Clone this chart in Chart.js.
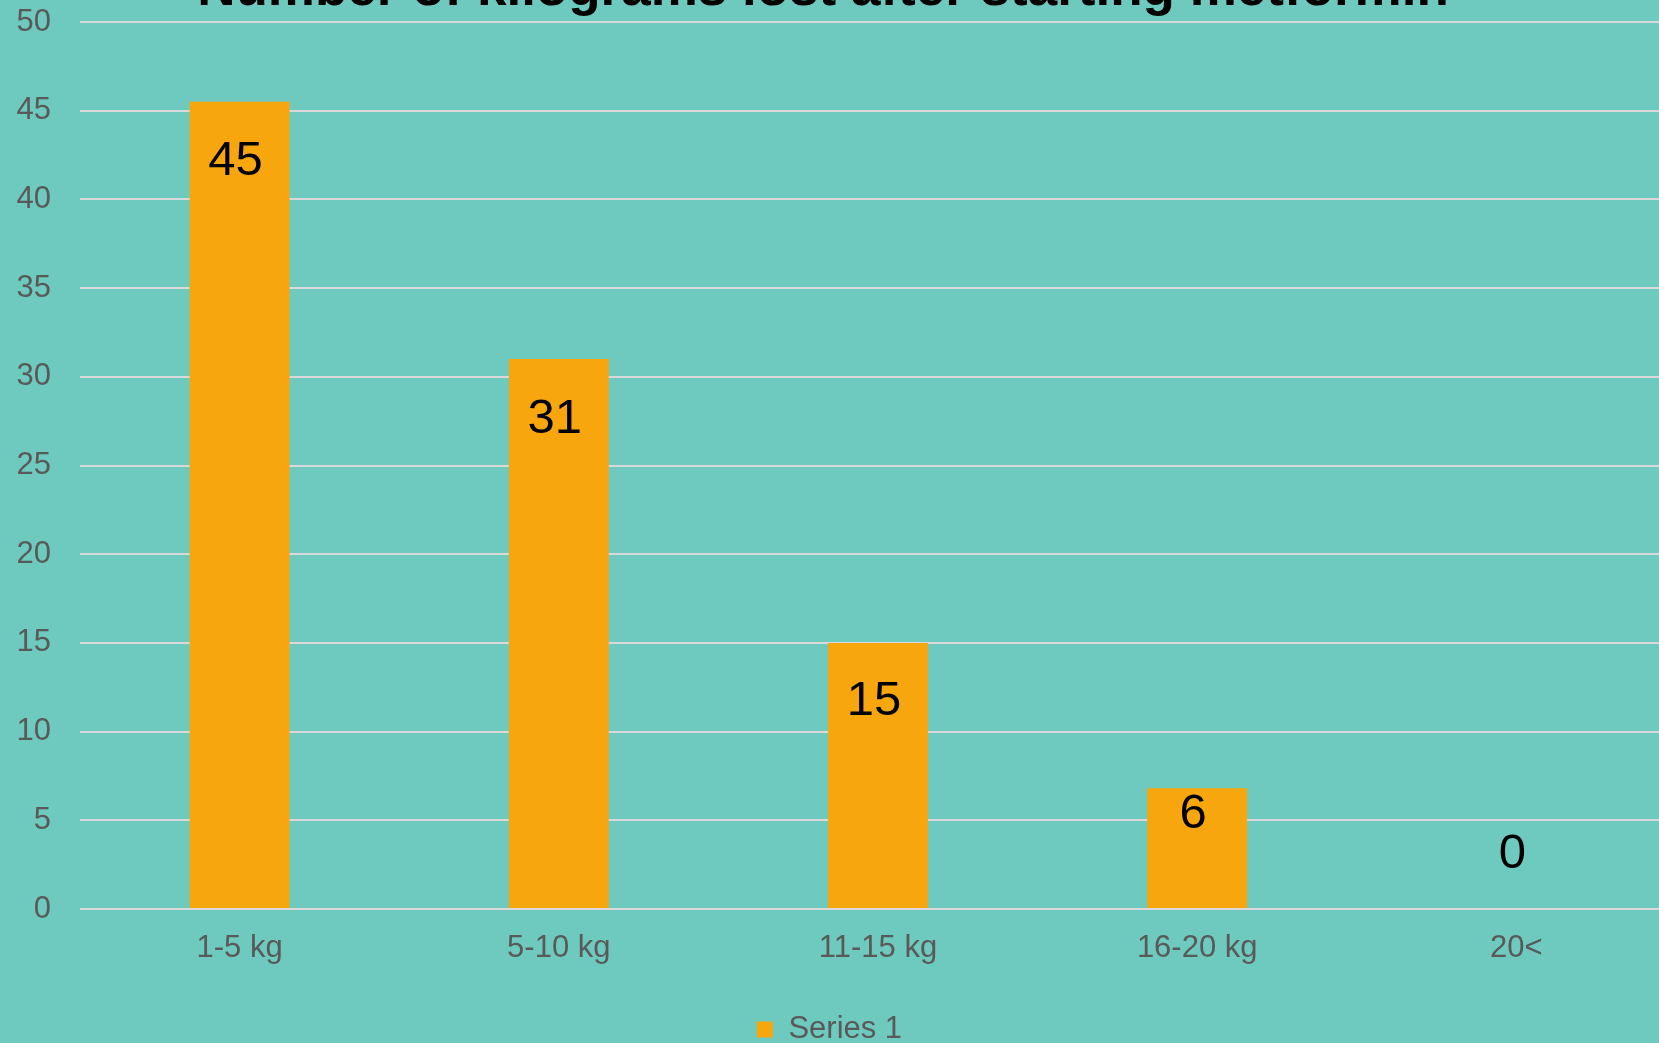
<!DOCTYPE html>
<html>
<head>
<meta charset="utf-8">
<script src="https://cdn.jsdelivr.net/npm/chart.js@4.4.0/dist/chart.umd.min.js"></script>
<style>
  body { margin: 0; background: #6ec9bf; }
  canvas { display: block; }
</style>
</head>
<body>
<canvas id="myChart" width="1659" height="1043"></canvas>
<script>
const titleText = 'Number of kilograms lost after starting metformin';
const categories = ['1-5 kg', '5-10 kg', '11-15 kg', '16-20 kg', '20<'];
const values = [45.5, 31, 15, 6.8, 0];
const valueLabels = ['45', '31', '15', '6', '0'];
const yMin = 0, yMax = 50, yStep = 5;

const font = '"Liberation Sans", Arial, sans-serif';

// title sits partly above the canvas, so draw it by hand
const titlePlugin = {
    id: 'cutTitle',
    afterDraw(chart) {
        const c = chart.ctx;
        c.save();
        c.font = 'bold 53px ' + font;
        c.fillStyle = '#000';
        c.textAlign = 'center';
        c.textBaseline = 'alphabetic';
        c.fillText(titleText, 823, 5);
        c.restore();
    }
};

// plot area runs a bit past the right edge of the canvas
const stretchX = {
    id: 'stretchX',
    afterLayout(chart) {
        const x = chart.scales.x;
        x.right += 17;
        x.width += 17;
        x.configure();
    }
};

const barLabels = {
    id: 'barLabels',
    afterDatasetsDraw(chart) {
        const c = chart.ctx;
        const meta = chart.getDatasetMeta(0);
        c.save();
        c.font = '49px ' + font;
        c.fillStyle = '#000';
        c.textAlign = 'center';
        c.textBaseline = 'middle';
        meta.data.forEach((bar, i) => {
            const h = bar.base - bar.y;
            let y;
            if (h > 20) y = bar.y + Math.min(60, h * 0.22);
            else y = bar.y - 55;
            c.fillText(valueLabels[i], bar.x - 4, y);
        });
        c.restore();
    }
};

new Chart(document.getElementById('myChart'), {
    type: 'bar',
    data: {
        labels: categories,
        datasets: [{
            label: 'Series 1',
            data: values,
            backgroundColor: '#f7a70d',
            borderWidth: 0,
            categoryPercentage: 1,
            barPercentage: 0.313
        }]
    },
    options: {
        responsive: false,
        animation: false,
        layout: { padding: { top: 22, right: 0, bottom: -12, left: 0 } },
        plugins: {
            title: { display: false },
            tooltip: { enabled: false },
            legend: {
                position: 'bottom',
                labels: {
                    color: '#595959',
                    font: { family: font, size: 31 },
                    boxWidth: 16,
                    boxHeight: 16,
                    padding: 10
                }
            }
        },
        scales: {
            x: {
                grid: { display: false },
                border: { display: false },
                ticks: { color: '#595959', font: { family: font, size: 31 }, padding: 13, maxRotation: 0 },
                afterFit(scale) {
                    scale.height = 95;
                    scale.paddingLeft = 0;
                    scale.paddingRight = 0;
                }
            },
            y: {
                min: yMin,
                max: yMax,
                grid: { color: '#d9d9d9', lineWidth: 2, drawTicks: false },
                border: { display: false },
                ticks: { stepSize: yStep, color: '#595959', font: { family: font, size: 31 }, padding: 29 },
                afterFit(scale) {
                    scale.width = 80;
                    scale.paddingTop = 0;
                    scale.paddingBottom = 0;
                }
            }
        }
    },
    plugins: [titlePlugin, stretchX, barLabels]
});
</script>
</body>
</html>
